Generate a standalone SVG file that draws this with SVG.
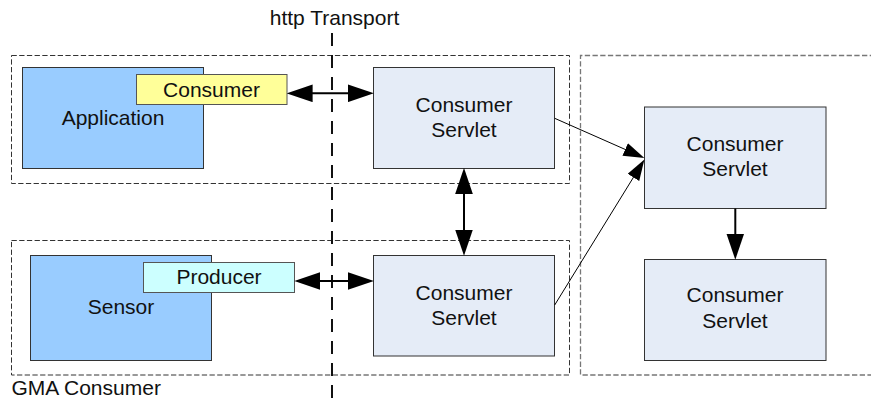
<svg xmlns="http://www.w3.org/2000/svg" width="871" height="401" viewBox="0 0 871 401">
  <style>
    text { font-family: "Liberation Sans", Arial, sans-serif; font-size: 21px; fill: #111; }
    .mid { text-anchor: middle; }
    .box { stroke: #333; stroke-width: 1; }
    .app { fill: #99ccff; }
    .servlet { fill: #e5ecf7; }
    .consumer { fill: #ffff99; stroke: #555; }
    .producer { fill: #ccffff; stroke: #555; }
    .frame { fill: none; stroke: #333; stroke-width: 1; stroke-dasharray: 5.3 2.4; }
    .frame-grey { fill: none; stroke: #777; stroke-width: 1.3; stroke-dasharray: 5.3 2.4; }
    .transport { stroke: #111; stroke-width: 2; stroke-dasharray: 13 9; }
    .link { stroke: #000; stroke-width: 2; fill: none; }
    .thin { stroke: #000; stroke-width: 1; fill: none; }
  </style>
  <defs>
    <marker id="head" markerUnits="userSpaceOnUse" markerWidth="26" markerHeight="18" viewBox="0 0 25 17" refX="15" refY="8.5" orient="auto-start-reverse">
      <path d="M0,0 L25,8.5 L0,17 z" fill="#000"/>
    </marker>
    <marker id="headSmall" markerUnits="userSpaceOnUse" markerWidth="21" markerHeight="14" viewBox="0 0 20 13" refX="12" refY="6.5" orient="auto">
      <path d="M0,0 L20,6.5 L0,13 z" fill="#000"/>
    </marker>
  </defs>

  <rect width="871" height="401" fill="#fff"/>

  <!-- dashed frames -->
  <g id="frames">
    <rect class="frame" x="11.5" y="55.5" width="558" height="128"/>
    <rect class="frame" x="11.5" y="240.5" width="558" height="134.5"/>
    <path class="frame-grey" d="M875,55.5 H580.5 V375 H875"/>
  </g>

  <g id="application">
    <rect class="box app" x="22.5" y="67.5" width="181" height="101"/>
    <text class="mid" x="113" y="125">Application</text>
  </g>
  <g id="consumer">
    <rect class="box consumer" x="136.5" y="74.5" width="150.5" height="30"/>
    <text class="mid" x="211.5" y="96.5">Consumer</text>
  </g>

  <g id="sensor">
    <rect class="box app" x="30.5" y="255.5" width="181" height="105"/>
    <text class="mid" x="121" y="314">Sensor</text>
  </g>
  <g id="producer">
    <rect class="box producer" x="143.5" y="262.5" width="151" height="30"/>
    <text class="mid" x="219" y="283.5">Producer</text>
  </g>

  <g id="servlet-top">
    <rect class="box servlet" x="373.5" y="67.5" width="181" height="101"/>
    <text class="mid" x="464" y="111.5">Consumer</text>
    <text class="mid" x="464" y="137">Servlet</text>
  </g>
  <g id="servlet-bottom">
    <rect class="box servlet" x="373.5" y="255.5" width="181" height="100.5"/>
    <text class="mid" x="464" y="300">Consumer</text>
    <text class="mid" x="464" y="325">Servlet</text>
  </g>
  <g id="servlet-right-top">
    <rect class="box servlet" x="644.5" y="107" width="181.5" height="101.5"/>
    <text class="mid" x="735" y="150.5">Consumer</text>
    <text class="mid" x="735" y="176">Servlet</text>
  </g>
  <g id="servlet-right-bottom">
    <rect class="box servlet" x="644.5" y="259.5" width="181.5" height="101"/>
    <text class="mid" x="735" y="302">Consumer</text>
    <text class="mid" x="735" y="328">Servlet</text>
  </g>

  <!-- transport boundary -->
  <g id="transport">
    <line class="transport" x1="332" y1="33" x2="332" y2="401"/>
    <text class="mid" x="334.5" y="25">http Transport</text>
  </g>

  <g id="connectors">
    <line class="link" x1="297" y1="93.3" x2="363.5" y2="93.3" marker-start="url(#head)" marker-end="url(#head)"/>
    <line class="link" x1="304.7" y1="281" x2="363.5" y2="281" marker-start="url(#head)" marker-end="url(#head)"/>
    <line class="link" x1="464" y1="178.3" x2="464" y2="245.3" marker-start="url(#head)" marker-end="url(#head)"/>
    <line class="link" x1="735.3" y1="208.5" x2="735.3" y2="249.3" marker-end="url(#head)"/>
    <line class="thin" x1="554.7" y1="118.3" x2="636.7" y2="154.5" marker-end="url(#headSmall)"/>
    <line class="thin" x1="554.7" y1="305" x2="640" y2="166.7" marker-end="url(#headSmall)"/>
  </g>

  <text x="11.5" y="395">GMA Consumer</text>
</svg>
